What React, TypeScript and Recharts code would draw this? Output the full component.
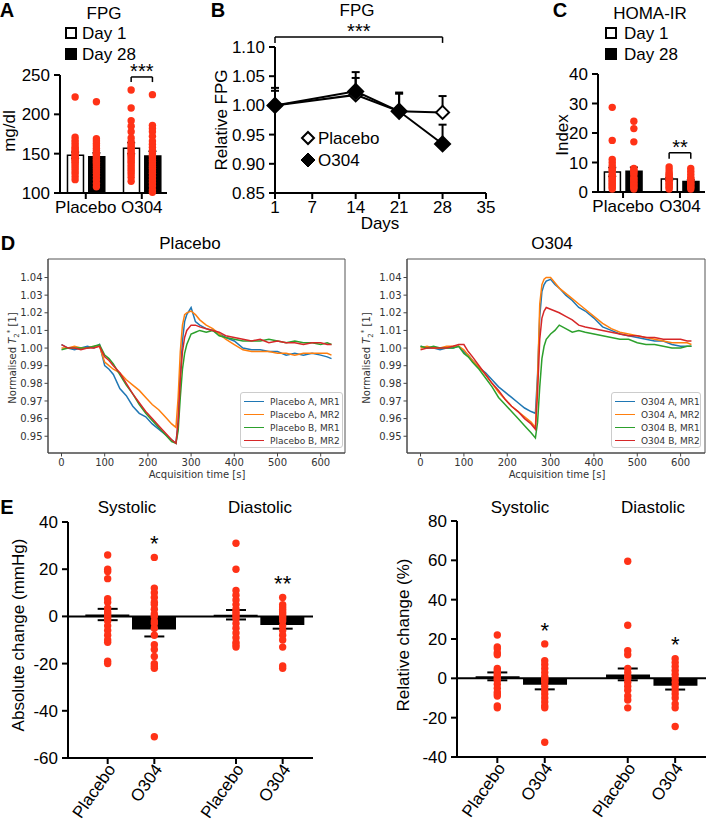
import React from 'react';
import {
  ComposedChart, LineChart, Line, Bar, Cell, Scatter, XAxis, YAxis,
  ErrorBar, ReferenceLine, ReferenceDot, ReferenceArea,
} from 'recharts';

const SANS = '"Liberation Sans", Arial, Helvetica, sans-serif';
const MPL = '"DejaVu Sans", sans-serif';
const RED = '#ff3217';
const TAB = ['#1f77b4', '#ff7f0e', '#2ca02c', '#d62728'];

const groups = ['Placebo', 'O304'];
const dayLabels = ['Day 1', 'Day 28'];

// A: fasting plasma glucose (mg/dl), [group][day]
const fpgMean = [[148, 146], [157, 147]];
const fpgSem = [[4, 5], [7, 6]];
const fpgDots = [
  [
    [222, 171, 167, 164, 161, 158, 156, 154, 152, 150, 148, 146, 145, 143, 141, 139, 137, 134, 131, 128, 125, 121, 117],
    [216, 169, 166, 163, 160, 157, 154, 151, 149, 147, 145, 143, 141, 139, 137, 134, 131, 128, 125, 121, 117, 112, 108],
  ],
  [
    [231, 208, 192, 185, 178, 170, 165, 162, 159, 157, 155, 152, 150, 148, 146, 144, 141, 139, 136, 133, 130, 127, 124, 120, 115],
    [225, 186, 182, 178, 172, 166, 162, 158, 154, 151, 148, 146, 143, 140, 137, 134, 131, 128, 125, 121, 117, 113, 109, 104, 101],
  ],
];

// B: relative FPG over time
const days = [1, 14, 21, 28];
const relPlacebo = [1.0, 1.018, 0.99, 0.988];
const relPlaceboSem = [0.025, 0.029, 0.03, 0.028];
const relO304 = [1.0, 1.024, 0.99, 0.934];
const relO304Sem = [0.03, 0.033, 0.032, 0.033];

// C: HOMA-IR index, [group][day]
const homaMean = [[6.8, 7.0], [4.4, 3.6]];
const homaSem = [[1.5, 1.4], [0.5, 0.5]];
const homaDots = [
  [
    [28.7, 17.5, 11, 10, 9, 8, 7.5, 7, 6, 5.5, 5, 4.5, 4, 3.5, 3, 2.5, 2, 1.5, 1],
    [24, 21.5, 17, 8, 7.5, 7, 6.5, 6, 5, 4.5, 4, 3.5, 3, 2.5, 2, 1.5, 1],
  ],
  [
    [8.5, 7.5, 6.5, 6, 5.5, 5, 4.5, 4, 3.5, 3, 2.5, 2, 1.5, 1],
    [8, 7, 6, 5, 4.5, 4, 3.5, 3, 2.5, 2, 1.5, 1],
  ],
];

// D: normalised T2* traces
const T = [0, 15, 30, 45, 60, 75, 88, 100, 110, 120, 135, 150, 165, 180, 195, 210, 225, 240, 255, 265,
  270, 275, 280, 285, 290, 300, 310, 320, 335, 350, 365, 380, 400, 420, 440, 460, 480, 500, 520, 540, 560, 580, 600, 615, 625];
const traceNames = ['A, MR1', 'A, MR2', 'B, MR1', 'B, MR2'];
const placeboTraces = [
  [1.002, 1.0, 0.999, 1.0, 1.001, 1.0, 1.002,
    0.99, 0.988, 0.985, 0.977, 0.973, 0.967, 0.963, 0.961, 0.957, 0.954, 0.951, 0.948, 0.946,
    0.958, 0.985, 1.004, 1.015, 1.019, 1.023, 1.015, 1.013, 1.011, 1.01, 1.008, 1.006,
    1.004, 1.0, 0.999, 0.999, 0.998, 0.998, 0.996, 0.997, 0.996, 0.997, 0.996, 0.995, 0.994],
  [1.0, 1.0, 1.001, 1.0, 1.0, 1.001, 1.001,
    0.992, 0.99, 0.988, 0.986, 0.982, 0.979, 0.976, 0.972, 0.968, 0.965, 0.961, 0.957, 0.955,
    0.972, 0.998, 1.013, 1.019, 1.02, 1.021, 1.019, 1.016, 1.013, 1.011, 1.008, 1.005,
    1.002, 0.999, 0.998, 0.998, 0.998, 0.997, 0.997, 0.996, 0.997, 0.997, 0.997, 0.997, 0.996],
  [0.999, 1.0, 1.0, 1.0, 1.0, 1.001, 1.002,
    0.996, 0.994, 0.991, 0.985, 0.979, 0.974, 0.968, 0.963, 0.959, 0.955, 0.951, 0.947, 0.946,
    0.953, 0.972, 0.988, 0.997, 1.002, 1.008, 1.009, 1.01, 1.009, 1.01, 1.007, 1.006,
    1.005, 1.004, 1.004, 1.004, 1.005, 1.004, 1.003, 1.004, 1.003, 1.003, 1.002, 1.003, 1.002],
  [1.002, 1.0, 1.0, 0.999, 1.0, 1.0, 1.001,
    0.995, 0.993, 0.99, 0.986, 0.98, 0.974, 0.969, 0.964, 0.96, 0.956, 0.952, 0.948, 0.946,
    0.958, 0.982, 0.998, 1.006, 1.01, 1.013, 1.013, 1.012, 1.011, 1.01, 1.009, 1.007,
    1.006, 1.005, 1.004, 1.005, 1.003, 1.004, 1.003, 1.003, 1.002, 1.003, 1.003, 1.002, 1.002],
];
const o304Traces = [
  [1.001, 1.0, 1.0, 0.999, 1.0, 1.0, 1.001,
    0.998, 0.996, 0.993, 0.989, 0.986, 0.982, 0.978, 0.975, 0.972, 0.969, 0.966, 0.964, 0.963,
    0.985, 1.018, 1.032, 1.036, 1.038, 1.039, 1.036, 1.034, 1.03, 1.027, 1.023, 1.021,
    1.017, 1.012, 1.01, 1.008, 1.007, 1.006, 1.005, 1.004, 1.004, 1.002, 1.001, 1.001, 1.001],
  [1.0, 1.001, 1.0, 1.0, 1.001, 1.001, 1.001,
    0.999, 0.996, 0.993, 0.989, 0.985, 0.98, 0.975, 0.971, 0.967, 0.964, 0.961, 0.958, 0.955,
    0.982, 1.025, 1.036, 1.039, 1.04, 1.04, 1.037, 1.034, 1.031, 1.028, 1.025, 1.022,
    1.018, 1.014, 1.011, 1.009, 1.008, 1.007, 1.006, 1.005, 1.004, 1.003, 1.003, 1.003, 1.002],
  [1.001, 1.0, 1.001, 1.0, 1.0, 1.0, 1.001,
    0.997, 0.995, 0.992, 0.988, 0.983, 0.978, 0.972, 0.968, 0.964, 0.96, 0.956, 0.952, 0.949,
    0.958, 0.978, 0.994, 1.001, 1.005, 1.008, 1.01, 1.013, 1.011, 1.009, 1.01, 1.009,
    1.008, 1.007, 1.006, 1.005, 1.005, 1.003, 1.002, 1.002, 1.001, 1.0, 1.0, 1.001, 1.001],
  [0.999, 1.0, 1.0, 1.0, 1.0, 1.001, 1.002,
    1.002, 0.998, 0.995, 0.99, 0.985, 0.98, 0.976, 0.971, 0.967, 0.964, 0.96, 0.957, 0.954,
    0.975, 1.005, 1.017, 1.021, 1.023, 1.022, 1.021, 1.02, 1.018, 1.016, 1.013, 1.012,
    1.011, 1.01, 1.009, 1.008, 1.007, 1.007, 1.006, 1.006, 1.005, 1.005, 1.005, 1.004, 1.004],
];
const traceYTicks = [0.95, 0.96, 0.97, 0.98, 0.99, 1.0, 1.01, 1.02, 1.03, 1.04];

// E: blood pressure change, order Systolic Placebo, Systolic O304, Diastolic Placebo, Diastolic O304
const bpGroups = ['Systolic', 'Diastolic'];
const absMean = [0.8, -5.6, 0.7, -3.6];
const absSem = [2.4, 2.9, 2.0, 1.6];
const absDots = [
  [26, 20, 19, 16, 7.5, 6, 3.5, 2, 1, 0, -1, -2, -4, -6, -8, -10, -11, -19, -20],
  [25, 12, 10, 8, 6, 5, 3, 1, 0, -2, -3, -5, -8, -12, -14, -17, -20, -21, -22, -51],
  [31, 20, 11, 9, 7, 5, 3, 2, 1, 0, -1, -3, -5, -7, -9, -11, -12, -13],
  [8, 5, 4, 3, 2, 1, 0, -1, -2, -4, -6, -8, -10, -13, -21, -22],
];
const absStars = ['', '*', '', '**'];
const relMean = [1.0, -3.2, 2.0, -3.8];
const relSem = [2.0, 2.4, 3.0, 1.9];
const relDots = [
  [22, 16, 15, 13, 12, 5, 4, 3, 2, 1, 0, -1, -3, -5, -7, -8, -9, -14, -15],
  [17.5, 9, 7, 5, 3, 1, 0, -1, -2, -4, -6, -8, -10, -12, -14, -15, -32.5],
  [59.5, 27, 14, 12, 5, 3, 1, 0, -2, -4, -6, -9, -11, -15],
  [10, 8, 6, 4, 2, 0, -2, -4, -6, -8, -10, -13, -15, -24.5],
];
const relStars = ['', '*', '', '*'];

// ---------- helpers ----------
const OFF = 0.19;
const ePos = (i: number) => Math.floor(i / 2) * 2.75 + (i % 2) + 0.85;

const axisLine = { stroke: '#000', strokeWidth: 2 };
const tickLine = { stroke: '#000', strokeWidth: 2 };
const bigTick = { fontSize: 17, fill: '#000', fontFamily: SANS };

const RedDot = (p: any) => <circle cx={p.cx} cy={p.cy} r={3.7} fill={RED} />;
const NoShape = () => <g />;

const Txt = ({ x, y, size = 17, rot = 0, bold = false, font = SANS, color = '#000', left = false, children }: any) => (
  <div
    style={{
      position: 'absolute', left: x, top: y, fontSize: size, fontFamily: font, color,
      fontWeight: bold ? 700 : 400, whiteSpace: 'nowrap', lineHeight: 1,
      transform: `translate(${left ? '0' : '-50%'}, -50%) rotate(${rot}deg)`,
    }}
  >
    {children}
  </div>
);

const Swatch = ({ x, y, filled }: any) => (
  <div style={{
    position: 'absolute', left: x - 6, top: y - 6, width: 12, height: 12, boxSizing: 'border-box',
    border: '2px solid #000', background: filled ? '#000' : '#fff',
  }} />
);

// significance bracket, stars sit just over the bar of the bracket
const bracket = (x1: number, x2: number, y: number, drop: number, text: string, size = 20) => [
  <ReferenceLine key="h" segment={[{ x: x1, y }, { x: x2, y }]} stroke="#000" strokeWidth={1.5} ifOverflow="visible"
    label={{ value: text, position: 'top', offset: -1, fontSize: size, fill: '#000', fontFamily: SANS }} />,
  <ReferenceLine key="l" segment={[{ x: x1, y }, { x: x1, y: y - drop }]} stroke="#000" strokeWidth={1.5} ifOverflow="visible" />,
  <ReferenceLine key="r" segment={[{ x: x2, y }, { x: x2, y: y - drop }]} stroke="#000" strokeWidth={1.5} ifOverflow="visible" />,
];

// ---------- A / C ----------
function DayBars({ left, top, yW, plotW, mt, plotH, yDomain, yTicks, xDomain, mean, sem, dots, br }: any) {
  const rows = mean.flatMap((m: number[], g: number) =>
    m.map((v, d) => ({ x: g + (d ? OFF : -OFF), mean: v, sem: sem[g][d], day: d })));
  const pts = dots.flatMap((gd: number[][], g: number) =>
    gd.flatMap((vals, d) => vals.map((v) => ({ x: g + (d ? OFF : -OFF), y: v }))));
  return (
    <div style={{ position: 'absolute', left, top }}>
      <ComposedChart width={yW + plotW + 2} height={mt + plotH + 35} data={rows}
        margin={{ top: mt, right: 2, left: 0, bottom: 0 }} style={{ fontFamily: SANS }}>
        <XAxis type="number" dataKey="x" domain={xDomain} ticks={[0, 1]} interval={0}
          tickFormatter={(v: number) => groups[v]} axisLine={axisLine} tickLine={tickLine}
          tickSize={6} tick={bigTick} height={35} />
        <YAxis type="number" domain={yDomain} ticks={yTicks} interval={0} width={yW}
          axisLine={axisLine} tickLine={tickLine} tickSize={6} tickMargin={4} tick={bigTick} />
        <Bar dataKey="mean" barSize={16} stroke="#000" strokeWidth={1.5} isAnimationActive={false}>
          {rows.map((r: any, i: number) => <Cell key={i} fill={r.day ? '#000' : '#fff'} />)}
        </Bar>
        <Scatter data={pts} dataKey="y" shape={RedDot} isAnimationActive={false} />
        <Scatter data={rows} dataKey="mean" shape={NoShape} isAnimationActive={false}>
          <ErrorBar dataKey="sem" direction="y" width={4} stroke="#000" strokeWidth={1.5} />
        </Scatter>
        {bracket(1 - OFF, 1 + OFF, br.y, br.drop, br.text)}
      </ComposedChart>
    </div>
  );
}

// ---------- B ----------
const diamond = (fill: string, r: number) => (p: any) => (
  <polygon key={`d${p.index}`}
    points={`${p.cx},${p.cy - r} ${p.cx + r},${p.cy} ${p.cx},${p.cy + r} ${p.cx - r},${p.cy}`}
    fill={fill} stroke="#000" strokeWidth={2} />
);

function RelFpg() {
  const rows = days.map((d, i) => ({
    day: d, p: relPlacebo[i], o: relO304[i], pe: [0, relPlaceboSem[i]], oe: [0, relO304Sem[i]],
  }));
  return (
    <div style={{ position: 'absolute', left: 205, top: 18 }}>
      <LineChart width={296} height={210} data={rows} margin={{ top: 29, right: 15, left: 0, bottom: 0 }}
        style={{ fontFamily: SANS }}>
        <XAxis type="number" dataKey="day" domain={[1, 35]} ticks={[1, 7, 14, 21, 28, 35]} interval={0}
          axisLine={axisLine} tickLine={tickLine} tickSize={6} tick={bigTick} height={35} />
        <YAxis type="number" domain={[0.85, 1.1]} ticks={[0.85, 0.9, 0.95, 1.0, 1.05, 1.1]} interval={0}
          tickFormatter={(v: number) => v.toFixed(2)} width={70}
          axisLine={axisLine} tickLine={tickLine} tickSize={6} tickMargin={4} tick={bigTick} />
        {bracket(1, 28, 1.117, 0.01, '***')}
        <Line dataKey="p" stroke="#000" strokeWidth={2} dot={diamond('#fff', 6.5)} isAnimationActive={false}>
          <ErrorBar dataKey="pe" direction="y" width={4} stroke="#000" strokeWidth={2} />
        </Line>
        <Line dataKey="o" stroke="#000" strokeWidth={2} dot={diamond('#000', 7.5)} isAnimationActive={false}>
          <ErrorBar dataKey="oe" direction="y" width={4} stroke="#000" strokeWidth={2} />
        </Line>
      </LineChart>
    </div>
  );
}

// ---------- D ----------
const mplTick = { fontSize: 10, fill: '#333', fontFamily: MPL };
const mplLine = { stroke: '#444' };

function Traces({ left, width, series }: any) {
  const rows = T.map((t, i) => ({ t, s0: series[0][i], s1: series[1][i], s2: series[2][i], s3: series[3][i] }));
  return (
    <div style={{ position: 'absolute', left, top: 255 }}>
      <LineChart width={width} height={223} data={rows} margin={{ top: 4, right: width === 342 ? 5 : 1, left: 0, bottom: 0 }}
        style={{ fontFamily: MPL }}>
        <XAxis type="number" dataKey="t" domain={[-31.25, 656.25]} ticks={[0, 100, 200, 300, 400, 500, 600]}
          interval={0} axisLine={mplLine} tickLine={mplLine} tickSize={3.5} tick={mplTick} height={25} />
        <YAxis type="number" domain={[0.9405, 1.0505]} ticks={traceYTicks} interval={0} width={40}
          tickFormatter={(v: number) => v.toFixed(2)} axisLine={mplLine} tickLine={mplLine} tickSize={3.5} tick={mplTick} />
        <ReferenceArea x1={-31.25} x2={656.25} y1={0.9405} y2={1.0505} fill="none" stroke="#555" strokeWidth={1} />
        {[0, 1, 2, 3].map((k) => (
          <Line key={k} dataKey={`s${k}`} stroke={TAB[k]} strokeWidth={1.5} dot={false} isAnimationActive={false} />
        ))}
      </LineChart>
    </div>
  );
}

const TraceLegend = ({ x, w, prefix }: any) => (
  <div style={{
    position: 'absolute', left: x, top: 392, width: w, height: 56, border: '1px solid #ccc', borderRadius: 3,
    background: 'rgba(255,255,255,0.85)', boxSizing: 'border-box', fontFamily: MPL, fontSize: 9, color: '#333',
  }}>
    {traceNames.map((n, i) => (
      <div key={n} style={{ position: 'absolute', left: 3, top: 2 + i * 13, height: 13, display: 'flex', alignItems: 'center', whiteSpace: 'nowrap' }}>
        <span style={{ display: 'inline-block', width: 20, height: 0, borderTop: `1.5px solid ${TAB[i]}`, marginRight: 6 }} />
        {prefix} {n}
      </div>
    ))}
  </div>
);

const T2Label = () => (
  <span>Normalised <i>T</i><sub style={{ fontSize: 7 }}>2</sub><sup style={{ fontSize: 7 }}>*</sup> [1]</span>
);

// ---------- E ----------
function ChangePanel({ left, top, yW, plotW, yDomain, yTicks, mean, sem, dots, stars }: any) {
  const rows = mean.map((m: number, i: number) => ({ x: ePos(i), mean: m, sem: sem[i] }));
  const pts = dots.flatMap((d: number[], i: number) => d.map((v) => ({ x: ePos(i), y: v })));
  const ticks = mean.map((_: number, i: number) => ePos(i));
  const unitPx = 236 / (yDomain[1] - yDomain[0]);
  const RotTick = (p: any) => {
    const idx = ticks.indexOf(p.payload.value);
    return (
      <text x={p.x + 4} y={p.y} transform={`rotate(-55 ${p.x + 4} ${p.y})`} textAnchor="end"
        dominantBaseline="central" fontSize={17} fontFamily={SANS} fill="#000">
        {groups[idx % 2]}
      </text>
    );
  };
  return (
    <div style={{ position: 'absolute', left, top }}>
      <ComposedChart width={yW + plotW} height={311} data={rows} margin={{ top: 10, right: 0, left: 0, bottom: 0 }}
        style={{ fontFamily: SANS }}>
        <XAxis type="number" dataKey="x" domain={[0, 5.25]} ticks={ticks} interval={0} height={65}
          axisLine={axisLine} tickLine={tickLine} tickSize={6} tick={RotTick} />
        <YAxis type="number" domain={yDomain} ticks={yTicks} interval={0} width={yW}
          axisLine={axisLine} tickLine={tickLine} tickSize={6} tickMargin={4} tick={bigTick} />
        <Bar dataKey="mean" barSize={44} fill="#000" isAnimationActive={false} />
        <ReferenceLine y={0} stroke="#000" strokeWidth={2} />
        <Scatter data={pts} dataKey="y" shape={RedDot} isAnimationActive={false} />
        <Scatter data={rows} dataKey="mean" shape={NoShape} isAnimationActive={false}>
          <ErrorBar dataKey="sem" direction="y" width={10} stroke="#000" strokeWidth={2} />
        </Scatter>
        {stars.map((s: string, i: number) => s ? (
          <ReferenceDot key={i} x={ePos(i)} y={Math.max(...dots[i]) + 14 / unitPx} r={0} fill="none" stroke="none"
            ifOverflow="visible" label={{ value: s, position: 'center', fontSize: 22, fill: '#000', fontFamily: SANS }} />
        ) : null)}
      </ComposedChart>
    </div>
  );
}

export default function App() {
  return (
    <div style={{ position: 'absolute', left: 0, top: 0, width: 706, height: 823, overflow: 'hidden', background: '#fff', fontFamily: SANS }}>
      <style>{'.recharts-surface{overflow:visible}'}</style>

      {/* A */}
      <Txt x={7} y={10} size={20} bold>A</Txt>
      <Txt x={104} y={13}>FPG</Txt>
      <Swatch x={71} y={33} />
      <Txt x={82} y={33} left>{dayLabels[0]}</Txt>
      <Swatch x={71} y={54} filled />
      <Txt x={82} y={54} left>{dayLabels[1]}</Txt>
      <Txt x={9} y={131} rot={-90}>mg/dl</Txt>
      <DayBars left={0} top={60} yW={60} plotW={107} mt={15} plotH={118} yDomain={[100, 250]} yTicks={[100, 150, 200, 250]}
        xDomain={[-0.46, 1.45]} mean={fpgMean} sem={fpgSem} dots={fpgDots} br={{ y: 247.5, drop: 6.5, text: '***' }} />

      {/* B */}
      <Txt x={218} y={10} size={20} bold>B</Txt>
      <Txt x={357} y={10}>FPG</Txt>
      <Txt x={221} y={120} rot={-90}>Relative FPG</Txt>
      <Txt x={380} y={223}>Days</Txt>
      <RelFpg />
      <svg style={{ position: 'absolute', left: 300, top: 130 }} width={16} height={40}>
        <polygon points="8,2 14,8 8,14 2,8" fill="#fff" stroke="#000" strokeWidth={2} />
        <polygon points="8,23 15,30 8,37 1,30" fill="#000" stroke="#000" strokeWidth={1} />
      </svg>
      <Txt x={318} y={138} left>{groups[0]}</Txt>
      <Txt x={318} y={160} left>{groups[1]}</Txt>

      {/* C */}
      <Txt x={560} y={10} size={20} bold>C</Txt>
      <Txt x={650} y={13}>HOMA-IR</Txt>
      <Swatch x={611} y={33} />
      <Txt x={624} y={33} left>{dayLabels[0]}</Txt>
      <Swatch x={611} y={54} filled />
      <Txt x={624} y={54} left>{dayLabels[1]}</Txt>
      <Txt x={562} y={135} rot={-90}>Index</Txt>
      <DayBars left={550} top={60} yW={48} plotW={107} mt={14} plotH={118} yDomain={[0, 40]} yTicks={[0, 10, 20, 30, 40]}
        xDomain={[-0.44, 1.44]} mean={homaMean} sem={homaSem} dots={homaDots} br={{ y: 13.3, drop: 2, text: '**' }} />

      {/* D */}
      <Txt x={8} y={243} size={20} bold>D</Txt>
      <Txt x={190} y={243}>{groups[0]}</Txt>
      <Txt x={552} y={243}>{groups[1]}</Txt>
      <Traces left={8} width={342} series={placeboTraces} />
      <Traces left={367} width={339} series={o304Traces} />
      <TraceLegend x={240} w={103} prefix={groups[0]} />
      <TraceLegend x={611} w={90} prefix={groups[1]} />
      <Txt x={14} y={358} size={10} rot={-90} font={MPL} color="#333"><T2Label /></Txt>
      <Txt x={368} y={358} size={10} rot={-90} font={MPL} color="#333"><T2Label /></Txt>
      <Txt x={197} y={475} size={10} font={MPL} color="#333">Acquisition time [s]</Txt>
      <Txt x={557} y={475} size={10} font={MPL} color="#333">Acquisition time [s]</Txt>

      {/* E */}
      <Txt x={7} y={507} size={20} bold>E</Txt>
      <Txt x={127} y={507}>{bpGroups[0]}</Txt>
      <Txt x={260} y={507}>{bpGroups[1]}</Txt>
      <Txt x={520} y={507}>{bpGroups[0]}</Txt>
      <Txt x={653} y={507}>{bpGroups[1]}</Txt>
      <Txt x={18} y={635} rot={-90}>Absolute change (mmHg)</Txt>
      <Txt x={403} y={635} rot={-90}>Relative change (%)</Txt>
      <ChangePanel left={0} top={512} yW={68} plotW={245} yDomain={[-60, 40]} yTicks={[-60, -40, -20, 0, 20, 40]}
        mean={absMean} sem={absSem} dots={absDots} stars={absStars} />
      <ChangePanel left={407} top={511} yW={50} plotW={249} yDomain={[-40, 80]} yTicks={[-40, -20, 0, 20, 40, 60, 80]}
        mean={relMean} sem={relSem} dots={relDots} stars={relStars} />
    </div>
  );
}
